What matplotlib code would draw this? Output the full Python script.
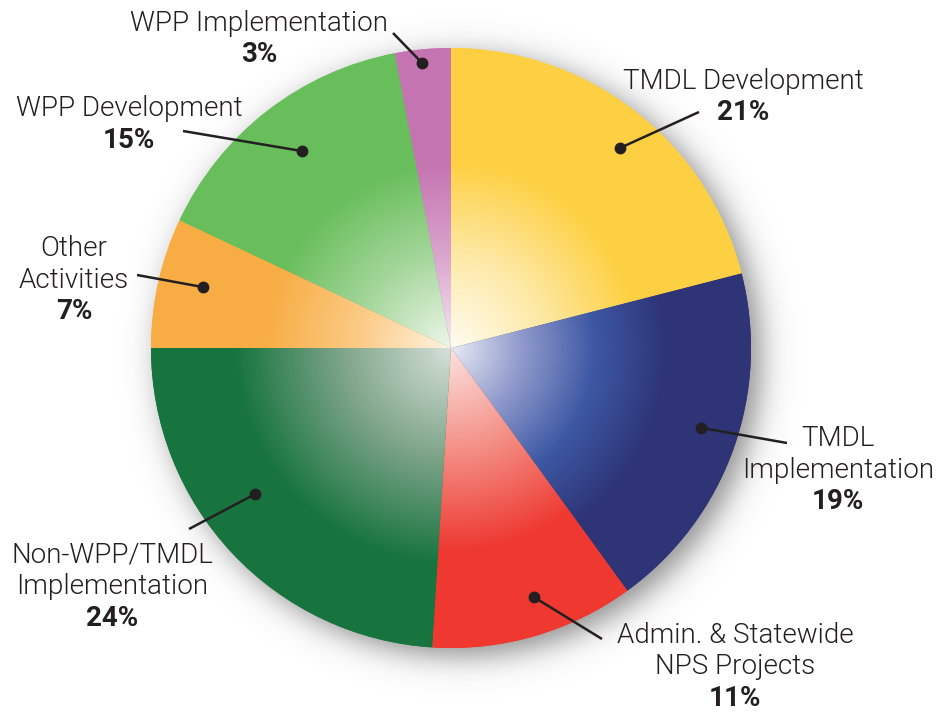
import numpy as np
import matplotlib
matplotlib.use("Agg")
import matplotlib.pyplot as plt
from matplotlib.colors import LinearSegmentedColormap

# ---------------------------------------------------------------------------
# data (clockwise from 12 o'clock)
# ---------------------------------------------------------------------------
categories = [
    "TMDL Development",
    "TMDL\nImplementation",
    "Admin. & Statewide\nNPS Projects",
    "Non-WPP/TMDL\nImplementation",
    "Other\nActivities",
    "WPP Development",
    "WPP Implementation",
]
shares = [21, 19, 11, 24, 7, 15, 3]
pct_labels = [f"{v}%" for v in shares]

# ---------------------------------------------------------------------------
# style / layout (pixel units, y measured from the top of the picture)
# ---------------------------------------------------------------------------
W, H = 946, 713
CX, CY, R = 451, H - 348, 300

base_colors = ["#FDD043", "#2E3476", "#EE3830", "#17743F",
               "#F8AD45", "#68BE5B", "#C474B0"]
# radial ramps: centre -> rim
ramps = [
    ["#FFFCF2", "#FDE9A6", "#FDD043"],
    ["#E8EAF4", "#8F99CB", "#3D58A4", "#2E3476"],
    ["#FBE3E0", "#F49086", "#EE3830"],
    ["#D6E0D8", "#7FA58A", "#17743F"],
    ["#FFF4E4", "#FBCB86", "#F8AD45"],
    ["#EEF7EC", "#A6D79C", "#68BE5B"],
    ["#F6E8F2", "#DAA5CD", "#C474B0"],
]
ramp_reach = [0.62, 0.72, 0.68, 0.72, 0.62, 0.62, 0.62]

# label block: centre x, first baseline y
label_pos = [(743, 89), (838, 446), (735, 643), (112, 563),
             (74, 256), (129, 116), (259, 31)]
# leader line start (next to the text)
leader_start = [(699, 112), (787, 443), (602, 639), (189, 529),
                (137, 275), (183, 131), (393, 33)]
# dot: angle nudge from wedge middle (deg), radius fraction
dot_place = [(-2.4, 0.873), (2.1, 0.875), (2.2, 0.875), (-6.5, 0.815),
             (-1.2, 0.851), (-0.7, 0.823), (0.4, 0.955)]
LINE_STEP = 31.5
INK = "#231F20"
FONT = "Roboto"

fig = plt.figure(figsize=(W / 100, H / 100), dpi=100)
ax = fig.add_axes([0, 0, 1, 1])

# drop shadow (soft, offset to the lower right)
yy, xx = np.mgrid[0:H, 0:W] + 0.5
d = np.hypot(xx - (CX + 9), yy - (CY - 8))
shadow = np.zeros((H, W, 4))
shadow[..., :3] = 0.2
shadow[..., 3] = 0.55 / (1 + np.exp((d - R) / 9.0))
ax.imshow(shadow, extent=(0, W, 0, H), origin="lower", zorder=0,
          interpolation="bilinear")

wedges, _ = ax.pie(shares, startangle=90, counterclock=False,
                   center=(CX, CY), radius=R, colors=base_colors,
                   wedgeprops=dict(linewidth=0))
for w in wedges:
    w.set_zorder(1)

# radial gradient inside every wedge
n = 2 * R
gy, gx = np.mgrid[0:n, 0:n] + 0.5
rr = np.hypot(gx - R, gy - R) / R
for w, ramp, reach in zip(wedges, ramps, ramp_reach):
    cmap = LinearSegmentedColormap.from_list("r", ramp)
    t = np.clip(rr / reach, 0, 1)
    im = ax.imshow(cmap(t), extent=(CX - R, CX + R, CY - R, CY + R),
                   origin="lower", zorder=2, interpolation="bilinear")
    im.set_clip_path(w)

# labels, leader lines and dots
for w, name, pct, (lx, ly), (sx, sy), (off, frac) in zip(
        wedges, categories, pct_labels, label_pos, leader_start, dot_place):
    lines = name.split("\n")
    for i, line in enumerate(lines):
        ax.text(lx, H - (ly + i * LINE_STEP), line, ha="center", va="baseline",
                fontsize=20, family=FONT, fontweight=300, color=INK, zorder=5)
    ax.text(lx, H - (ly + len(lines) * LINE_STEP), pct, ha="center",
            va="baseline", fontsize=20, family=FONT, fontweight="bold",
            color=INK, zorder=5)

    ang = np.deg2rad((w.theta1 + w.theta2) / 2 + off)
    dx = CX + frac * R * np.cos(ang)
    dy = CY + frac * R * np.sin(ang)
    ax.plot([sx, dx], [H - sy, dy], color=INK, lw=1.8, zorder=4,
            solid_capstyle="butt")
    ax.plot(dx, dy, "o", color=INK, ms=7.5, zorder=4)

ax.set_xlim(0, W)
ax.set_ylim(0, H)
ax.set_aspect("equal")
ax.axis("off")

fig.savefig("out.png", dpi=100)
